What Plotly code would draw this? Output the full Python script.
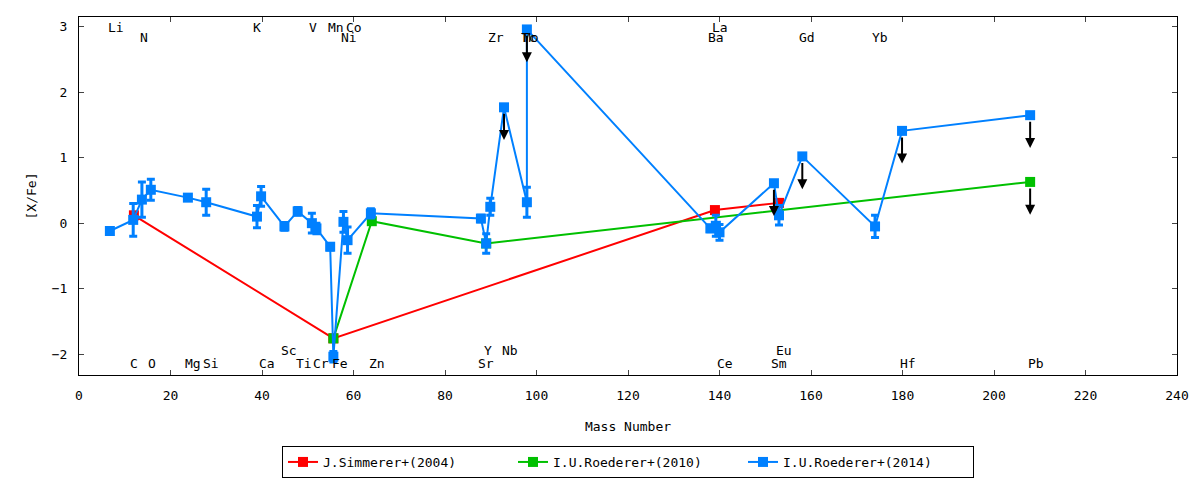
import plotly.graph_objects as go

# [X/Fe] vs mass number, three abundance studies
red_mass = [12.0, 55.6, 139.0, 153.0]
red_xfe = [0.12, -1.76, 0.20, 0.31]
red_err = [0.02, 0.02, 0.02, 0.02]
red_ul = [False, False, False, False]

green_mass = [55.6, 64.0, 89.0, 207.9]
green_xfe = [-1.76, 0.03, -0.31, 0.63]
green_err = [0.02, 0.02, 0.02, 0.02]
green_ul = [False, False, False, True]

blue_mass = [6.75, 11.85, 13.75, 15.7, 23.8, 27.8, 38.9, 39.8, 44.9, 47.8,
             50.9, 51.9, 54.9, 55.6, 57.8, 58.7, 63.8, 87.85, 89.0, 89.9,
             92.9, 97.9, 97.9, 138.0, 139.2, 140.0, 151.9, 153.0, 158.1, 174.0,
             179.9, 207.9]
blue_xfe = [-0.12, 0.05, 0.36, 0.51, 0.39, 0.32, 0.10, 0.41, -0.05, 0.18,
            0.00, -0.08, -0.36, -2.04, 0.02, -0.26, 0.15, 0.07, -0.31, 0.25,
            1.77, 0.32, 2.96, -0.08, -0.04, -0.14, 0.61, 0.12, 1.02, -0.05,
            1.41, 1.65]
blue_err = [0.0, 0.25, 0.27, 0.16, 0.04, 0.20, 0.17, 0.15, 0.06, 0.06,
            0.15, 0.08, 0.05, 0.08, 0.16, 0.20, 0.07, 0.05, 0.15, 0.13,
            0.0, 0.23, 0.0, 0.05, 0.16, 0.12, 0.0, 0.15, 0.0, 0.17,
            0.0, 0.0]
blue_ul = [False] * 20 + [True, False, True, False, False, False, True, False,
                          True, False, True, True]

# element labels (mass position, [X/Fe] position)
el_names = ["Li", "K", "V", "Mn", "Co", "La",
            "N", "Ni", "Zr", "Tc", "Mo", "Ba", "Gd", "Yb",
            "Sc", "Y", "Nb", "Eu",
            "C", "O", "Mg", "Si", "Ca", "Ti", "Cr", "Fe", "Zn", "Sr", "Ce",
            "Sm", "Hf", "Pb"]
el_mass = [8.1, 39.0, 51.1, 56.2, 60.2, 140.2,
           14.1, 59.0, 91.2, 98.3, 98.8, 139.3, 159.1, 175.1,
           46.0, 89.3, 94.1, 154.0,
           12.1, 16.0, 25.0, 28.9, 41.1, 49.2, 52.9, 57.1, 65.1, 89.0, 141.1,
           153.1, 181.1, 209.2]
el_level = [2.99] * 6 + [2.84] * 8 + [-1.94] * 4 + [-2.15] * 14

ARROW_LEN = 0.5
FONT = "DejaVu Sans Mono"

series = [
    ("J.Simmerer+(2004)", "#ff0000", red_mass, red_xfe, red_err, red_ul),
    ("I.U.Roederer+(2010)", "#00c000", green_mass, green_xfe, green_err, green_ul),
    ("I.U.Roederer+(2014)", "#0080ff", blue_mass, blue_xfe, blue_err, blue_ul),
]

fig = go.Figure()
arrows = []
for name, color, mass, xfe, err, ul in series:
    fig.add_trace(go.Scatter(
        x=mass, y=xfe, name=name, mode="lines+markers",
        line=dict(color=color, width=2),
        marker=dict(symbol="square", size=10, color=color),
        error_y=dict(type="data", array=err, visible=True, color=color,
                     thickness=3, width=4),
    ))
    for m, v, flag in zip(mass, xfe, ul):
        if flag:
            arrows.append(dict(x=m, y=v - ARROW_LEN, ax=m, ay=v,
                               xref="x", yref="y", axref="x", ayref="y",
                               text="", showarrow=True, arrowhead=2,
                               arrowsize=1, arrowwidth=2, arrowcolor="black",
                               standoff=0, startstandoff=5))

labels = [dict(x=m, y=lv, text=n, xref="x", yref="y", showarrow=False,
               font=dict(family=FONT, size=13, color="black"))
          for n, m, lv in zip(el_names, el_mass, el_level)]

# the page body adds an 8px offset, so margins are trimmed on top/left
fig.update_layout(
    width=1200, height=480,
    margin=dict(l=71, r=31, t=9, b=113, autoexpand=False),
    paper_bgcolor="white", plot_bgcolor="white",
    font=dict(family=FONT, size=13, color="black"),
    annotations=arrows + labels,
    showlegend=True,
    legend=dict(orientation="h", x=0.5, xanchor="center", y=-0.243,
                yanchor="middle", bordercolor="black", borderwidth=1,
                entrywidth=185, font=dict(family=FONT, size=13)),
)
fig.update_xaxes(range=[0, 240], dtick=20, ticks="inside", ticklen=5,
                 showline=True, linecolor="black", linewidth=1, mirror="ticks",
                 showgrid=False, zeroline=False, ticklabelstandoff=8,
                 title=dict(text="Mass Number", standoff=20,
                            font=dict(family=FONT, size=13)))
fig.update_yaxes(range=[-2.32, 3.15], dtick=1, ticks="inside", ticklen=5,
                 showline=True, linecolor="black", linewidth=1, mirror="ticks",
                 showgrid=False, zeroline=False, ticklabelstandoff=8,
                 title=dict(text="[X/Fe]", standoff=12,
                            font=dict(family=FONT, size=13)))

fig.write_html("out.html")
